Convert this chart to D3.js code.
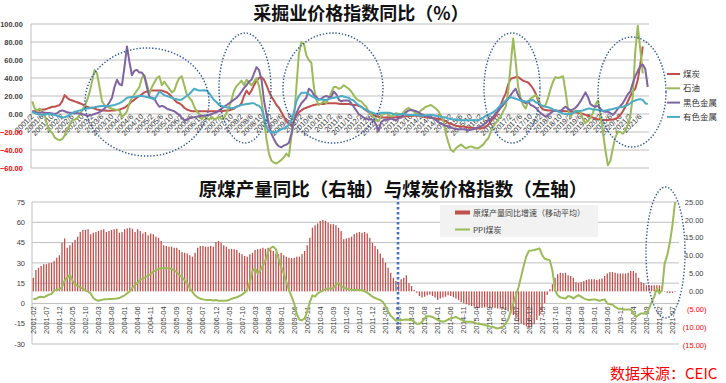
<!DOCTYPE html>
<html><head><meta charset="utf-8">
<script src="https://cdn.jsdelivr.net/npm/d3@7/dist/d3.min.js"></script>
<style>
body{margin:0;background:#fff;}
svg{display:block;font-family:"Liberation Sans",Arial,sans-serif;}
.cjk{font-family:"Noto Sans CJK SC","Noto Sans",sans-serif;}
</style></head><body>
<script>
// ---------------- DATA ----------------
// Monthly categories 2001-02 ... 2021-09
const startYear = 2001, startMonth = 2, monthCount = 248;
const months = d3.range(monthCount).map(k => {
  const m0 = startMonth - 1 + k;
  return {y: startYear + Math.floor(m0 / 12), m: (m0 % 12) + 1};
});
const topCategories = months.map(d => d.y + "/" + d.m);
const bottomCategories = months.map(d => d.y + "-" + String(d.m).padStart(2, "0"));

// Top panel: 采掘业价格指数同比 (%)
const topSeriesNames = ["煤炭", "石油", "黑色金属", "有色金属"];
const coalTop = [
 3,3,4,4,5,5,6,7,8,8,9,
 10,14,21,18,16,15,14,13,12,11,9,8,
 7,7,6,5,4.5,4,4,3.5,3.5,4,4,4.5,
 5,6,7,9,11,14,16,18,20,22,24,25,
 25.5,26,26,26,26,26,25,24,22,19,16,13,
 12,10,7,5,4,3,3,3,3,3,3,3,
 3,3,3,3,3,3,3.5,4,4,5,6,8,
 9,12,20,26,22,26,32,37,40,41,38,32,
 25,19,15,10,7,2,-3,-8,-11,-13,-8,-2,
 2,4,6,7,8,9,10,10.5,11,11,11,12,
 12,12,12,12,11.5,11,11,11,11,10.5,10,10,
 9,8,6,4,2,0.5,-1,-2.5,-3,-3.5,-4,-4,
 -4,-4,-4,-3.5,-3,-3,-3,-2.5,-2.5,-2,-2,-2,
 -2,-2.5,-3,-3.5,-4,-4,-4.5,-5,-5.5,-6,-7,-8,
 -10,-11,-12,-13,-13.5,-14,-14,-14.5,-15,-15,-15.5,-16,
 -16,-16,-15.5,-14,-12,-8,-5,-2,4,10,17,23,
 33,39,40,41,41,39,37,36,35,32,28,23,
 15,8,5,4.5,4,4,4,3.7,3.7,3.5,3.3,3,
 3,2.5,2.5,2,1.5,1,0,-1,-2,-3,-4,-5,
 -6,-6,-6.5,-6.7,-6.7,-6.5,-6,-5.5,-4,-1,3,8,
 14,20,25,28,38,55,75
];
const oilTop = [
 14,6,4,6,3,-1,-12,-18,-21,-26,-28,
 -29,-28,-24,-18,-12,-7,-6,-5,-1,4,9,15,
 24,36,49,45,30,14,10,8,7,6,5,4.5,
 4,-3,-1,3,12,18,22,26,30,40,43,33,
 22,30,35,40,42,32,36,32,28,24,26,34,
 40,42,32,22,18,15,8,3,0,-6,-2,-5,
 -6,-3,-6,-5,-3,-6,-4,1,8,16,26,31,
 34,37,32,38,35,32,36,40,31,15,-5,-28,
 -44,-52,-54,-55,-53,-51,-48,-44,-47,-25,-7,30,
 67,80,78,65,60,57,30,16,10,12,14,12,
 18,24,30,30,28,29,32,30,28,25,21,17,
 15,14,11,8,3,0,-4,-7,-8,-2,0,1,
 -1,-3,-1,1,0,-1,2,5,7,5,3,0,
 1,4,6,8,9,10,8,6,3,-2,-8,-22,
 -32,-40,-42,-38,-36,-34,-36,-38,-37,-36,-37,-38,
 -38,-36,-34,-30,-27,-20,-14,-10,-6,-3,3,8,
 25,55,84,58,30,18,10,6,14,17,19,21,
 18,10,8,10,18,28,36,41,40,41,42,25,
 5,-3,1,4,3,2,-6,-10,-8,-4,1,10,
 15,0,-20,-40,-57,-52,-38,-26,-20,-20,-22,-18,
 -12,-3,20,70,98,72,45
];
const ferrousTop = [
 3,2,1,1.5,2,1.5,1,1,0.5,0,1,
 3,4,3,2,1.5,1,0.5,1,0.5,0,-1,-2,
 -1.5,-1,0,1,2,4,6,9,13,18,30,38,
 33,32,52,75,58,43,48,49,46,46,42,30,
 19,18,17,12,8,9,8,6,5,4,3,1,
 -1,-4,-7,-6,-5,-4,-3.5,-3,-2.5,-2,-2,-1.5,
 -1,0,1,2,4,6,8,10,12,14,16,18,
 21,25,29,32,36,38,45,52,49,38,15,0,
 -12,-22,-28,-33,-36,-37,-35,-34,-32,-22,-8,1,
 7,12,15,18,28,26,21,19,16,17,19,20,
 19,19,25,22,16,14,15,15,15,12,8,4,
 0,-2,-4,-5,-6,-6,-7,-12,-19,-9,-7,-6,
 -6,-5,-6,-7,-5,-3,-1,2,4,4.5,4,3,
 2,0,-1,-2,-3,-4,-5,-7,-9,-11,-12,-13,
 -14,-15,-16,-17,-17,-17,-17,-17.5,-18,-17.5,-17,-16,
 -15,-14,-12,-10,-7,-6,-3,1,3,7,10,14,
 17,21,25,28,21,16,14,12,14,10,9,7,
 4,1,-1,-3,-1,1,3,4,3,3,6,8,
 6,4,5,7,10,14,19,24,19,11,9,8,
 9,6,3,2.5,2.5,1,-1,2,6,9,12,17,
 22,25,34,42,48,53,55,50,30
];
const nonferrousTop = [
 2.5,1,0,-0.5,-1,-0.5,0,0,-0.5,-1,-2,
 -3,-3.5,-3.7,-2.5,-1,1,2.5,3,4,4.5,5.5,6,
 6.5,7,7.5,8,8.5,9,9,9,9,9.5,10,11,
 12,13.5,15.5,18,18.5,19,19,19.5,20,20,19.5,19,
 18,17.5,16,20,25,23,21,20,19,18,17,16.5,
 15.5,16,18,20,22,25,28,27,26,26,26.5,26,
 23,19,15.5,13,10,9,8,7.5,7,6.5,7,8,
 9,10,10.5,11,11.5,12,12,10,9,6,-3,-15,
 -19,-20,-21,-20,-18,-17,-16,-14,-12,-7,2,14,
 20,23.5,23.7,23.7,22,20,18.5,17,16,16,15.5,15.5,
 16.5,17.5,18,18.5,19,20,19.5,18.5,18,16,15,12,
 10,8,6,4.5,3,2,1,0,0.5,1.5,1.5,1.5,
 1.5,1,0,-1,-0.5,0,0,-0.5,-1,-1,-1,-1,
 -1.5,-2,-2,-1.5,-1,-1,-1.5,-2,-2.5,-3,-3.5,-4,
 -5,-5.5,-6,-6,-6.5,-7,-7,-7,-7,-7,-7,-7,
 -7,-6,-4,-2,-1,0.5,2,4,7,10,12,15,
 17,18.5,18,17,16,15,14.5,14,14,15,15.5,13,
 12,10,9,8,7.5,6.5,5,4,3,1.5,0.5,0,
 0,0,1,2.5,3,3.5,4,5,6,6,5,5,
 4.5,4,3.7,4,4.4,5,5.5,6.3,7,7.4,8,9,
 10,12,14,15,16,16.5,15.5,12,11
];
const topYTicks = [-60,-40,-20,0,20,40,60,80,100];

// Bottom panel: 原煤产量同比 (right axis, bars) & PPI煤炭 (left axis, line)
const bottomSeriesNames = ["原煤产量同比增速（移动平均）", "PPI煤炭"];
const coalOutputYoY = [
 3.8,6,6.6,7.1,7.6,7.6,7.9,8,8.5,9.4,10.1,
 13.6,14.8,12.2,12.9,13.6,14.4,15.3,16.6,17.2,17.2,17.4,16,
 16.4,16.6,16.9,17.2,17.4,16.6,16.9,17.2,17.4,17.5,16.4,16.6,
 17.4,17.6,17.8,17.5,16.6,17.4,16.9,16.2,16.6,15.7,16.2,16,
 15.3,15,14.1,12.9,12.7,12.5,12.5,12.2,12.2,11.6,11,10.8,
 10.6,10.1,9.7,10.8,12.2,12.7,12.7,12.5,12.5,12.7,12.5,13.8,
 14.1,13.6,12.9,12.5,11.9,11.9,11.8,11.6,10.8,10.4,9.9,9.7,
 10.4,10.8,11.6,11.8,11.9,12.2,11.9,12.2,11.6,11.3,10.6,10.4,
 10.8,10.1,9.7,9.4,9.3,9.4,9.7,9.7,10.4,11.3,12.9,15,
 17.8,18.5,19,19.7,20,19.7,19.2,18.8,18.8,18.5,17.8,16.9,
 14.6,14.8,15,15.3,16,16.4,16.6,16.4,16.6,16.2,15,13.6,
 12.7,11.8,10.6,9.4,8,6.6,5.2,3.8,2.9,2.6,3.4,3.8,
 4.5,2.3,1.5,0.4,-0.4,-1.3,-1.7,-1.5,-1.1,-0.9,-1.3,-1.7,
 -2.4,-2,-1.7,-1.5,-1.1,-1.3,-1.6,-2,-2.4,-3,-3.3,-3.6,
 -3.9,-4.1,-4.3,-4.5,-4.6,-4.6,-4.5,-4.4,-4.5,-4.6,-4.7,-4.8,
 -4.8,-5,-5.2,-5.6,-6.2,-6.6,-7.4,-8.5,-9,-9.4,-9.8,-10.3,
 -9.9,-9.2,-8,-6.8,-5.7,-3.3,-1,0.6,2,3.8,4.8,5.2,
 5.1,5.2,4.5,4.3,3.8,2.6,2.4,2.6,2.9,3.2,3.4,3.4,
 3.4,3.2,3.4,3.6,4.3,5,5.4,5.4,5.2,5,5,5,
 5,5.2,5.7,5.7,5.2,3.8,2.6,2.3,1.7,1.7,1.7,1.7,
 1.7,1.7,1.5,0.1,-0.4,-0.5,-0.4,-0.2
];
const ppiCoal = [
 3.3,3.3,4.5,5,4.5,5.5,6.5,7,9.5,10,10.5,
 12,17,19,21,17,14,13,12,11,9.5,8.7,7.4,
 4,2.5,2,2.5,3,3,3.2,3.3,3.5,3.6,4,5,
 6,7.5,9,11.5,13.6,15.5,17.3,18.5,19.5,20.5,22,23.5,
 24.5,25.5,26,26.2,26,26,25.5,24.5,23,21,19.5,17,
 15,11,8.5,6,4.5,3.5,3,2.7,2.5,2.5,2.2,2.5,
 2,2,2,2,2.5,3.5,4,4.5,5.5,6.5,8,10,
 16,24,26,22,24.5,28,32,38,41,42,40,33,
 27,22,16,10,5,0,-8,-12,-12.5,-11,-6,1,
 6,5,7.5,8.5,9.5,10.5,11,11,11.2,14,15,13,
 11.5,11,10.5,10,10,9.9,9.9,9.8,9,8,6.5,5,
 4,3.2,2.5,1,-2,-6,-9,-11,-12.8,-12.5,-12.3,-12,
 -11.8,-12,-12.3,-13.5,-15,-15,-13.6,-11,-9.4,-9.5,-10,-11,
 -12,-13,-13.6,-13,-12,-11,-10.5,-10,-11,-12,-13,-13.6,
 -13.6,-13.6,-14,-14.8,-15.2,-15.5,-16,-16.5,-17,-17.2,-18,-18.5,
 -18,-17.2,-15,-12,-6,0,6,12,20,28,35,39,
 39.2,39.5,40,40.7,36,33,32.5,32,24,10,6,4.5,
 4,3.7,5.5,5,3.7,5,6.2,5,3.7,3,2.5,2.8,
 3,2.5,2,2.5,3,0,-0.5,-1,-2.5,-3.7,-4,-4.4,
 -4.4,-4.4,-4.4,-7,-9.9,-8.5,-7.4,-7.4,-7.4,-4,1,5,
 11,7.4,9.9,29.6,35.8,45,58,75
];
const leftTicks = [-30,-15,0,15,30,45,60,75];
const rightTicks = [-15,-10,-5,0,5,10,15,20,25];

// ---------------- CHART ----------------
const W = 726, H = 383;
const svg = d3.select("body").append("svg").attr("width", W).attr("height", H);
svg.append("rect").attr("width", W).attr("height", H).attr("fill", "#fff");

const colors = ["#C0504D", "#9BBB59", "#8064A2", "#4BACC6"];
const gridColor = "#bfbfbf";
const ellipseColor = "#2f5597";

// ===== TOP PANEL =====
const xT = d3.scaleBand().domain(d3.range(monthCount)).range([31, 649]);
const cxT = i => xT(i) + xT.bandwidth() / 2;
const yT = d3.scaleLinear().domain([-60, 100]).range([168, 24]);

const gT = svg.append("g");
gT.selectAll(".gridT").data(topYTicks).join("line")
  .attr("x1", 31).attr("x2", 649)
  .attr("y1", d => yT(d)).attr("y2", d => yT(d))
  .attr("stroke", gridColor).attr("stroke-width", 1);
gT.append("line").attr("x1", 31).attr("x2", 31).attr("y1", yT(100)).attr("y2", yT(-60))
  .attr("stroke", gridColor);

gT.selectAll(".ylabT").data(topYTicks).join("text")
  .attr("x", 22.8).attr("y", d => yT(d) + 3)
  .attr("text-anchor", "end").attr("font-size", 7.4).attr("font-weight", "bold")
  .attr("fill", d => d < 0 ? "#ff0000" : "#404040")
  .text(d => d3.format(".2f")(d));

// x labels, every 4 months, rotated
const topTickIdx = d3.range(0, monthCount, 4);
gT.selectAll(".xlabT").data(topTickIdx).join("text")
  .attr("transform", i => `translate(${cxT(i) + 2},${yT(0) + 3}) rotate(-45)`)
  .attr("text-anchor", "end").attr("font-size", 7.5).attr("fill", "#333")
  .text(i => topCategories[i]);

const topSeries = [coalTop, oilTop, ferrousTop, nonferrousTop];
const lineT = d3.line().x((d, i) => cxT(i)).y(d => yT(d));
topSeries.forEach((s, k) => {
  gT.append("path").attr("d", lineT(s)).attr("fill", "none")
    .attr("stroke", colors[k]).attr("stroke-width", 2).attr("stroke-linejoin", "round");
});

// dotted annotation ellipses
const topEllipses = [[147, 102, 62, 54], [245, 88, 26, 55], [333, 88, 50, 55], [512, 88, 28, 55], [632, 92, 34, 55]];
gT.selectAll(".ell").data(topEllipses).join("ellipse")
  .attr("cx", d => d[0]).attr("cy", d => d[1]).attr("rx", d => d[2]).attr("ry", d => d[3])
  .attr("fill", "none").attr("stroke", ellipseColor).attr("stroke-width", 1.4)
  .attr("stroke-dasharray", "1.4,1.8");

// legend
const legT = gT.selectAll(".legT").data(topSeriesNames).join("g")
  .attr("transform", (d, k) => `translate(667,${74 + k * 14.3})`);
legT.append("line").attr("x1", 0).attr("x2", 13).attr("stroke", (d, k) => colors[k]).attr("stroke-width", 2);
legT.append("text").attr("class", "cjk").attr("x", 16).attr("y", 3).attr("font-size", 8.5)
  .attr("fill", "#333").text(d => d);

// title
svg.append("text").attr("class", "cjk").attr("x", 361).attr("y", 19.5)
  .attr("text-anchor", "middle").attr("font-size", 18).attr("font-weight", "bold")
  .attr("fill", "#111").text("采掘业价格指数同比（%）");

// ===== BOTTOM PANEL =====
const xB = d3.scaleBand().domain(d3.range(monthCount)).range([32, 679]);
const cxB = j => xB(j) + xB.bandwidth() / 2;
const yL = d3.scaleLinear().domain([-30, 75]).range([344, 202]);
const yR = d3.scaleLinear().domain([-15, 25]).range([345, 202]);

const gB = svg.append("g");
gB.selectAll(".gridB").data(leftTicks).join("line")
  .attr("x1", 32).attr("x2", 679)
  .attr("y1", d => yL(d)).attr("y2", d => yL(d))
  .attr("stroke", gridColor).attr("stroke-width", 1);
gB.append("line").attr("x1", 32).attr("x2", 32).attr("y1", yL(75)).attr("y2", yL(-30))
  .attr("stroke", gridColor);

// bars
const barW = 1.3;
gB.selectAll(".bar").data(coalOutputYoY).join("rect")
  .attr("x", (d, j) => cxB(j) - barW / 2).attr("width", barW)
  .attr("y", d => yR(Math.max(0, d))).attr("height", d => Math.abs(yR(d) - yR(0)))
  .attr("fill", "#C0504D");

// x labels bottom
const botTickIdx = d3.range(0, monthCount - 1, 5);
gB.selectAll(".xlabB").data(botTickIdx).join("text")
  .attr("transform", j => `translate(${cxB(j) + 2.6},${yL(0) + 3}) rotate(-90)`)
  .attr("text-anchor", "end").attr("font-size", 7.5).attr("fill", "#404040")
  .text(j => bottomCategories[j]);

// PPI line
const lineB = d3.line().x((d, j) => cxB(j)).y(d => yL(d));
gB.append("path").attr("d", lineB(ppiCoal)).attr("fill", "none")
  .attr("stroke", "#9BBB59").attr("stroke-width", 2).attr("stroke-linejoin", "round");

// axes labels
gB.selectAll(".ylabL").data(leftTicks).join("text")
  .attr("x", 25).attr("y", d => yL(d) + 2.7).attr("text-anchor", "end")
  .attr("font-size", 7.5).attr("fill", "#404040").text(d => d);
const fmtR = d3.format(".2f");
gB.selectAll(".ylabR").data(rightTicks).join("text")
  .attr("x", d => d < 0 ? 706.5 : 703.5).attr("y", d => yR(d) + 2.7).attr("text-anchor", "end")
  .attr("font-size", 7.5).attr("fill", d => d < 0 ? "#ff0000" : "#404040")
  .text(d => d < 0 ? "(" + fmtR(-d) + ")" : fmtR(d));

// legend box
const legB = gB.append("g");
legB.append("rect").attr("x", 440).attr("y", 205).attr("width", 158).attr("height", 32).attr("fill", "#f2f2f2");
legB.append("rect").attr("x", 455).attr("y", 210.5).attr("width", 15).attr("height", 4).attr("fill", "#C0504D");
legB.append("text").attr("class", "cjk").attr("x", 473).attr("y", 215.5).attr("font-size", 8)
  .attr("fill", "#404040").text(bottomSeriesNames[0]);
legB.append("line").attr("x1", 455).attr("x2", 470).attr("y1", 229.5).attr("y2", 229.5)
  .attr("stroke", "#9BBB59").attr("stroke-width", 2);
legB.append("text").attr("class", "cjk").attr("x", 473).attr("y", 232.5).attr("font-size", 8)
  .attr("fill", "#404040").text(bottomSeriesNames[1]);

// annotations
gB.append("line").attr("x1", 398).attr("x2", 398).attr("y1", 197).attr("y2", 330)
  .attr("stroke", "#4472C4").attr("stroke-width", 2.6).attr("stroke-dasharray", "2.6,2.4");
gB.append("ellipse").attr("cx", 665.5).attr("cy", 252.5).attr("rx", 19.5).attr("ry", 65.5)
  .attr("fill", "none").attr("stroke", ellipseColor).attr("stroke-width", 1.4)
  .attr("stroke-dasharray", "1.4,1.8");

svg.append("text").attr("class", "cjk").attr("x", 393).attr("y", 196)
  .attr("text-anchor", "middle").attr("font-size", 18.5).attr("font-weight", "bold")
  .attr("fill", "#111").text("原煤产量同比（右轴）与煤炭价格指数（左轴）");

svg.append("text").attr("class", "cjk").attr("x", 610).attr("y", 378.5)
  .attr("font-size", 15).attr("fill", "#ff0000").text("数据来源：CEIC");
</script>
</body></html>
